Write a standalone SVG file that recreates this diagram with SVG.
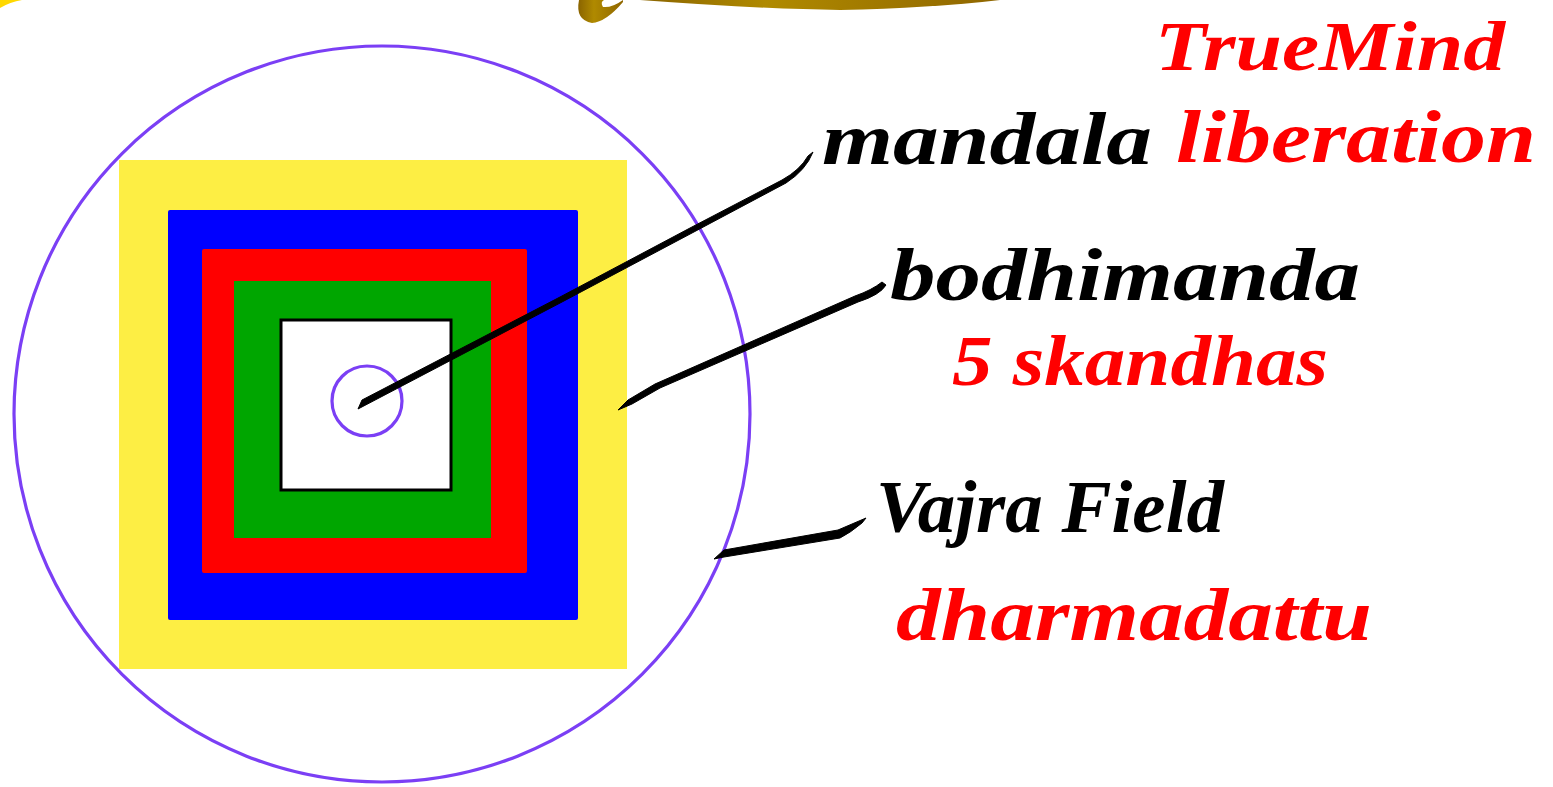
<svg xmlns="http://www.w3.org/2000/svg" width="1553" height="787" viewBox="0 0 1553 787">
<defs>
<linearGradient id="gold" x1="0" y1="0" x2="1" y2="0">
<stop offset="0" stop-color="#8a6400"/>
<stop offset="0.35" stop-color="#b08a00"/>
<stop offset="1" stop-color="#8f6600"/>
</linearGradient>
<style>
.ring{fill:none;stroke:#7b3ff5;stroke-width:3.2}
.lbl{font-family:"Liberation Serif","DejaVu Serif",serif;font-style:italic;font-weight:bold}
.blk{fill:#000}
.red{fill:#f00}
.conn{fill:#000;stroke:#000;stroke-linejoin:round}
</style>
</defs>
<rect width="1553" height="787" fill="#fff"/>
<g id="top-fragments">
<path d="M0,8 Q10,2 22,0 L0,0 Z" fill="#ffd800"/>
<path d="M579,0 Q575,20 592,23 Q606,22 623,2 L623,0 Q612,8 603,7 Q600,2 604,0 Z" fill="url(#gold)"/>
<path d="M640,0 Q760,9 840,10 Q930,8 1000,0 Z" fill="url(#gold)"/>
</g>
<g id="outer-circle"><circle class="ring" cx="382" cy="414" r="368"/></g>
<g id="yellow-square"><rect x="119" y="160" width="508" height="509" fill="#fdee44"/></g>
<g id="blue-square"><rect x="168" y="210" width="410" height="410" rx="2" fill="#0000ff"/></g>
<g id="red-square"><rect x="202" y="249" width="325" height="324" rx="2" fill="#ff0000"/></g>
<g id="green-square"><rect x="234" y="281" width="257" height="257" fill="#00a600"/></g>
<g id="white-square"><rect x="281" y="320" width="170" height="170" fill="#fff" stroke="#000" stroke-width="3"/></g>
<g id="inner-circle"><circle class="ring" cx="367" cy="401" r="35"/></g>
<g id="connectors">
<path class="conn" stroke-width="1" d="M358,409 L362,400 L560,297 L690,228 L782,180 Q800,170 808,156 L813,152 Q806,170 786,183 L692,233 L562,302 Z"/>
<path class="conn" stroke-width="1" d="M618,410 L628,400 L655,384 L855,296 Q872,290 882,282 L886,285 Q880,295 858,302 L660,388 L632,404 Z"/>
<path class="conn" stroke-width="1" d="M714,559 L724,550 L838,530 Q852,524 866,518 L862,523 Q850,533 840,538 L724,557 Z"/>
</g>
<g id="label-truemind"><text class="lbl red" x="1155" y="70" font-size="70" textLength="350" lengthAdjust="spacingAndGlyphs">TrueMind</text></g>
<g id="label-mandala"><text class="lbl blk" x="822" y="164" font-size="74" textLength="330" lengthAdjust="spacingAndGlyphs">mandala</text></g>
<g id="label-liberation"><text class="lbl red" x="1176" y="162" font-size="74" textLength="360" lengthAdjust="spacingAndGlyphs">liberation</text></g>
<g id="label-bodhimanda"><text class="lbl blk" x="890" y="300" font-size="74" textLength="470" lengthAdjust="spacingAndGlyphs">bodhimanda</text></g>
<g id="label-skandhas"><text class="lbl red" x="952" y="385" font-size="72" textLength="376" lengthAdjust="spacingAndGlyphs">5 skandhas</text></g>
<g id="label-vajra"><text class="lbl blk" x="876" y="532" font-size="74" textLength="348" lengthAdjust="spacingAndGlyphs">Vajra Field</text></g>
<g id="label-dharmadattu"><text class="lbl red" x="896" y="640" font-size="74" textLength="476" lengthAdjust="spacingAndGlyphs">dharmadattu</text></g>
</svg>
